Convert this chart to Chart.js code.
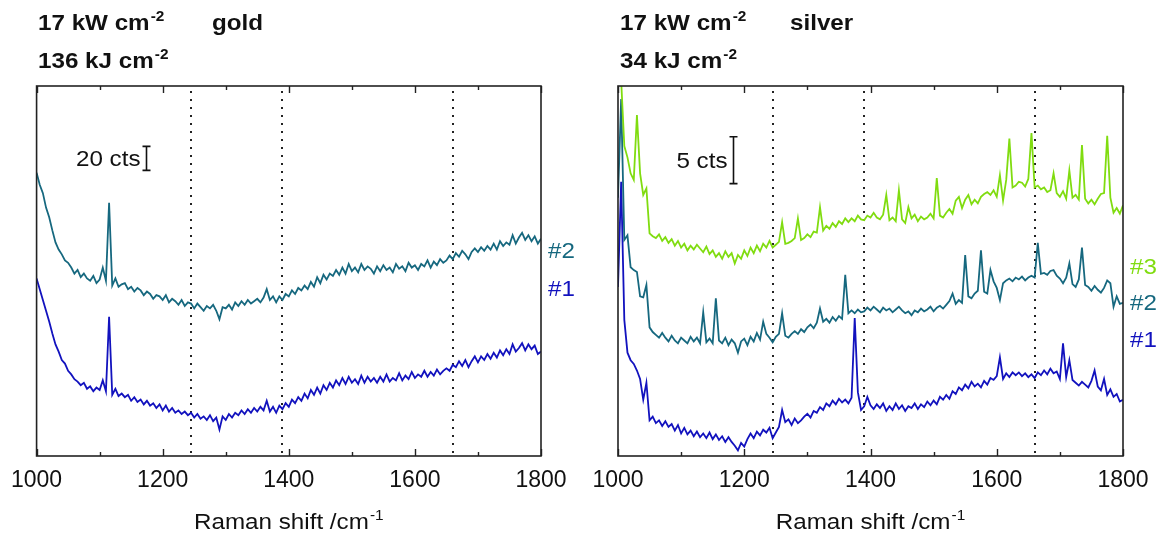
<!DOCTYPE html>
<html><head><meta charset="utf-8">
<script src="https://cdn.jsdelivr.net/npm/chart.js@4.4.1/dist/chart.umd.min.js"></script>
<style>
html,body{margin:0;padding:0;background:#fff;width:1173px;height:533px;overflow:hidden}
.box{position:absolute;top:0;height:533px}
#b1{left:0;width:586px}
#b2{left:556px;width:617px}
</style></head><body>
<div class="box" id="b1"><canvas id="c1"></canvas></div>
<div class="box" id="b2"><canvas id="c2"></canvas></div>
<script>
// Raman shift grid (cm^-1)
const SHIFT_START = 1000, SHIFT_STEP = 5;
const xTicks = [1000, 1200, 1400, 1600, 1800];
const xMinorTicks = [1100, 1300, 1500, 1700];
const markerShifts = [1245, 1390, 1660];

// gold, counts (offset spectra)
const gold2 = [
236,226,219,207,199,188,178,172,168,163,
161,157,152,155,149,152,148,146,150,144,
147,157,146,211,142,148,141,143,144,139,
141,137,140,138,134,137,135,131,134,133,
130,134,128,131,129,126,130,125,128,127,
123,127,124,121,125,123,126,121,114,124,
123,126,122,128,125,129,126,130,127,129,
131,128,132,139,130,133,128,133,130,135,
133,138,135,140,138,142,139,145,141,149,
144,151,147,152,150,155,151,157,152,160,
154,157,153,160,155,158,156,152,158,154,
159,155,157,153,160,156,158,154,161,157,
159,155,160,158,163,157,162,159,164,161,
163,167,164,169,166,171,168,164,170,173,
170,174,171,175,172,177,172,179,175,178,
176,184,177,182,186,180,184,179,183,177,
181];
const gold1 = [
148,139,130,121,112,102,93,87,80,77,
71,68,64,62,59,61,56,58,54,57,
55,63,54,116,51,56,50,52,49,51,
46,49,45,47,43,46,42,44,40,43,
38,42,37,40,36,38,35,37,34,36,
32,35,31,33,30,34,29,32,22,33,
30,35,32,36,34,38,35,39,36,40,
37,41,38,46,37,41,36,42,39,44,
41,47,44,49,46,52,48,55,51,57,
52,59,55,61,57,63,59,65,60,66,
61,64,60,67,61,66,62,65,61,66,
62,68,62,65,63,69,63,67,64,70,
65,68,66,71,66,70,67,72,68,71,
73,71,76,74,79,75,80,74,79,83,
78,83,80,85,81,86,82,88,84,89,
85,93,87,90,94,88,93,89,92,85,
87];

// silver, counts (offset spectra)
const silver3 = [
42,40,33,31.8,30.1,29.4,36.3,30.1,27.8,28.5,
23.7,23.4,23.2,23.6,22.9,23.3,22.7,23.1,22.4,22.9,
22.2,22.6,21.9,22.4,22.0,22.5,22.1,21.7,22.3,21.5,
21.9,21.2,21.6,21.0,21.8,21.2,21.6,20.5,21.4,21.0,
21.9,21.3,22.2,21.6,22.4,21.8,22.6,22.2,22.9,22.2,
22.5,22.8,24.9,22.6,22.7,22.9,23.2,25.3,23.0,23.2,
23.6,23.3,23.9,23.8,26.5,24.0,24.5,24.2,24.8,24.4,
25.0,24.7,25.3,24.9,25.3,25.0,25.6,25.2,25.1,25.6,
25.4,25.9,25.4,25.2,25.7,27.8,25.1,25.4,25.0,28.3,
25.2,24.8,26.5,25.3,25.7,25.0,25.5,25.2,25.4,25.8,
25.3,29.6,25.6,25.4,25.9,26.3,25.8,27.2,27.6,26.4,
27.3,27.8,26.8,27.3,26.9,27.6,27.9,28.1,27.8,28.3,
27.6,29.9,27.2,29.4,33.8,28.6,28.8,29.2,29.1,28.7,
29.5,34.4,28.6,28.8,28.4,28.6,28.1,28.3,30.1,28.0,
27.6,28.2,27.4,30.4,27.5,27.8,27.3,33.1,27.4,26.9,
27.3,26.8,27.4,27.9,28.0,34.1,27.5,25.9,26.4,25.8,
26.7];
const silver2 = [
27.5,38,23.0,23.5,20.1,19.8,19.6,17.0,16.9,18.2,
13.7,13.2,12.9,12.6,13.1,12.6,12.2,12.8,12.3,12.0,
12.6,12.3,12.0,12.7,12.2,12.6,12.0,15.3,12.1,12.5,
12.0,16.8,12.3,12.0,12.6,11.8,12.4,12.0,11.0,12.2,
12.5,11.8,12.7,12.2,13.1,12.4,14.3,13.0,12.6,12.1,
12.7,13.0,15.2,12.8,12.6,13.0,13.3,13.0,13.5,13.2,
13.7,14.0,13.6,14.2,15.7,14.3,14.6,14.2,14.8,14.4,
14.9,14.6,19.3,15.2,15.5,15.2,15.6,15.3,15.4,15.8,
15.5,15.9,15.6,15.3,15.8,15.5,15.7,15.3,15.6,15.9,
15.5,15.2,15.4,15.0,15.5,15.3,15.7,15.4,15.6,15.9,
15.4,15.8,16.0,15.7,16.1,16.5,17.3,16.2,16.6,16.3,
21.4,17.0,16.8,17.3,17.6,21.9,17.5,17.3,19.8,18.6,
17.9,16.6,18.4,18.7,18.9,18.6,19.0,18.8,19.1,18.7,
19.0,19.2,19.0,22.7,19.4,19.5,19.3,19.7,19.8,19.2,
18.9,18.4,19.0,20.5,18.3,18.0,18.8,22.2,18.2,18.0,
17.6,18.1,17.7,17.4,17.9,18.7,18.4,15.9,17.0,16.2,
16.3];
const silver1 = [
18.0,29.2,14.5,11.0,10.2,9.8,9.1,8.2,6.0,7.8,
3.8,4.2,3.5,3.8,3.2,3.7,3.1,3.4,2.7,3.3,
2.4,3.0,2.3,2.7,2.1,2.6,2.0,2.4,1.9,2.5,
1.8,2.3,1.7,2.1,1.5,2.0,1.5,1.1,0.6,1.4,
1.0,1.8,2.4,1.9,2.6,2.2,2.8,2.5,3.0,1.9,
2.5,3.1,4.9,3.6,3.9,3.3,4.0,3.5,3.8,4.2,
4.5,4.1,4.8,4.6,5.2,4.9,5.6,5.3,5.9,5.5,
6.1,5.7,6.0,5.6,6.2,14.7,6.8,4.9,5.3,6.3,
5.4,5.0,5.5,5.1,5.6,4.8,5.3,4.9,5.6,5.0,
5.4,4.8,5.3,5.1,5.6,5.0,5.5,5.2,5.8,5.4,
5.9,5.5,6.3,6.0,6.5,6.1,6.9,6.6,7.3,7.0,
7.6,7.2,7.9,7.4,7.7,7.3,8.0,7.6,8.3,8.1,
8.5,10.5,8.2,8.8,8.4,8.9,8.6,8.9,8.5,8.8,
8.4,8.7,8.3,8.9,8.6,9.1,8.7,9.3,8.8,9.0,
8.2,12.0,8.4,10.2,8.1,7.8,7.5,7.9,7.6,7.3,
8.0,9.1,7.4,7.0,8.2,6.5,7.1,6.3,6.6,5.8,
6.0];

const goldLabels = ['#2', '#1'];
const silverLabels = ['#3', '#2', '#1'];
const goldBar = {shift: 1174, from: 238, to: 258, text: '20 cts'};
const silverBar = {shift: 1182, from: 29, to: 34, text: '5 cts'};

const C_BLUE = '#1212be', C_TEAL = '#16687f', C_GREEN = '#80dc10';
const FONT = '"Liberation Sans", Arial, sans-serif';
const SX = 1.1; // horizontal stretch of the reference lettering

const shifts = gold2.map((_, i) => SHIFT_START + SHIFT_STEP * i);
const pts = arr => arr.map((v, i) => ({x: shifts[i], y: v}));

// draws text (with optional superscript), horizontally stretched by SX
function supText(ctx, x, y, base, sup, size, bold, align) {
  const w = bold ? 'bold ' : '';
  const fb = w + size + 'px ' + FONT, fs = w + Math.round(size * 0.62) + 'px ' + FONT;
  ctx.font = fb; const bw = ctx.measureText(base).width;
  ctx.font = fs; const sw = sup ? ctx.measureText(sup).width : 0;
  const total = (bw + (sup ? 1 + sw : 0)) * SX;
  let x0 = x;
  if (align === 'center') x0 = x - total / 2;
  if (align === 'right') x0 = x - total;
  ctx.save();
  ctx.translate(x0, y); ctx.scale(SX, 1);
  ctx.textAlign = 'left'; ctx.textBaseline = 'alphabetic';
  ctx.font = fb; ctx.fillText(base, 0, 0);
  if (sup) { ctx.font = fs; ctx.fillText(sup, bw + 1, -size * 0.42); }
  ctx.restore();
}

function panelPlugin(cfg) {
  return {
    id: 'panel',
    beforeDatasetsDraw(chart) {
      const {ctx, chartArea: a, scales: {x}} = chart;
      ctx.save();
      ctx.strokeStyle = '#222';
      ctx.lineWidth = 2;
      ctx.setLineDash([2, 6]);
      markerShifts.forEach(v => {
        const px = Math.round(x.getPixelForValue(v));
        ctx.beginPath(); ctx.moveTo(px, a.top + 5); ctx.lineTo(px, a.bottom); ctx.stroke();
      });
      ctx.restore();
    },
    afterDraw(chart) {
      const {ctx, chartArea: a, scales: {x, y}} = chart;
      const ox = cfg.offset;
      ctx.save();
      // frame
      ctx.strokeStyle = '#222'; ctx.lineWidth = 1.6;
      ctx.strokeRect(a.left, a.top, a.right - a.left, a.bottom - a.top);
      // inward ticks top & bottom
      ctx.lineWidth = 1.4;
      const tk = (vals, len) => vals.forEach(v => {
        const px = Math.round(x.getPixelForValue(v)) + 0.5;
        ctx.beginPath(); ctx.moveTo(px, a.bottom); ctx.lineTo(px, a.bottom - len); ctx.stroke();
        ctx.beginPath(); ctx.moveTo(px, a.top); ctx.lineTo(px, a.top + len); ctx.stroke();
      });
      tk(xTicks, 7); tk(xMinorTicks, 4);
      // scale bar
      const b = cfg.bar;
      const bx = Math.round(x.getPixelForValue(b.shift)) + 0.5;
      const y1 = y.getPixelForValue(b.from), y2 = y.getPixelForValue(b.to);
      ctx.strokeStyle = '#111'; ctx.lineWidth = 1.6;
      ctx.beginPath();
      ctx.moveTo(bx, y1); ctx.lineTo(bx, y2);
      ctx.moveTo(bx - 4, y1); ctx.lineTo(bx + 4, y1);
      ctx.moveTo(bx - 4, y2); ctx.lineTo(bx + 4, y2);
      ctx.stroke();
      ctx.fillStyle = '#111';
      supText(ctx, bx - 6, (y1 + y2) / 2 + 8, b.text, '', 22, false, 'right');
      // titles
      supText(ctx, cfg.tx - ox, 30, '17 kW cm', '-2', 22, true);
      supText(ctx, cfg.tx2 - ox, 30, cfg.metal, '', 22, true);
      supText(ctx, cfg.tx - ox, 68, cfg.dose, '-2', 22, true);
      // axis title
      supText(ctx, (a.left + a.right) / 2, 529, 'Raman shift /cm', '-1', 22, false, 'center');
      // series labels
      cfg.labels.forEach((l, i) => {
        ctx.fillStyle = cfg.labelColors[i];
        supText(ctx, cfg.lx - ox, cfg.ly[i] + 8, l, '', 22, false);
      });
      ctx.restore();
    }
  };
}

function makeChart(id, datasets, yMax, pad, cfg) {
  return new Chart(document.getElementById(id), {
    type: 'line',
    data: {datasets},
    options: {
      responsive: true, maintainAspectRatio: false, animation: false,
      layout: {padding: {left: pad[0], right: pad[1], top: 86, bottom: 0}},
      plugins: {legend: {display: false}, tooltip: {enabled: false}},
      elements: {point: {radius: 0}, line: {borderWidth: 1.8, tension: 0}},
      scales: {
        x: {
          type: 'linear', min: 1000, max: 1800,
          afterBuildTicks(s) { s.ticks = xTicks.map(v => ({value: v})); },
          grid: {display: false, drawTicks: false},
          border: {display: false},
          ticks: {font: {size: 23, family: FONT}, color: '#111', padding: 11, maxRotation: 0,
                  callback: v => String(v)},
          afterFit(s) { s.height = 77; }
        },
        y: {display: false, min: 0, max: yMax}
      }
    },
    plugins: [panelPlugin(cfg)]
  });
}

makeChart('c1', [
  {data: pts(gold2), borderColor: C_TEAL},
  {data: pts(gold1), borderColor: C_BLUE}
], 308.3, [36, 45], {
  offset: 0, bar: goldBar, tx: 38, tx2: 212, metal: 'gold', dose: '136 kJ cm',
  labels: goldLabels, labelColors: [C_TEAL, C_BLUE], lx: 548, ly: [250, 288]
});

makeChart('c2', [
  {data: pts(silver3), borderColor: C_GREEN},
  {data: pts(silver2), borderColor: C_TEAL},
  {data: pts(silver1), borderColor: C_BLUE}
], 39.4, [62, 50], {
  offset: 556, bar: silverBar, tx: 620, tx2: 790, metal: 'silver', dose: '34 kJ cm',
  labels: silverLabels, labelColors: [C_GREEN, C_TEAL, C_BLUE], lx: 1130, ly: [266, 302, 339]
});
</script>
</body></html>
